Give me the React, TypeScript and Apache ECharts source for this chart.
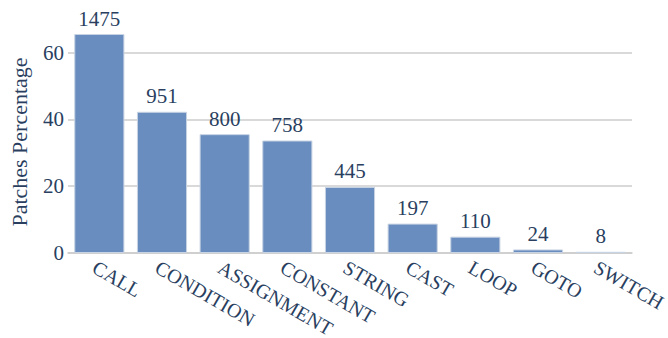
import React, { useEffect, useRef } from "react";
import * as echarts from "echarts";

const categories = ["CALL", "CONDITION", "ASSIGNMENT", "CONSTANT", "STRING", "CAST", "LOOP", "GOTO", "SWITCH"];
const counts = [1475, 951, 800, 758, 445, 197, 110, 24, 8];
const percentages = [65.6, 42.3, 35.6, 33.7, 19.8, 8.8, 4.9, 1.07, 0.36];
const yTicks = [0, 20, 40, 60];

const FONT = "Liberation Serif";
const TEXT = "#2a3f5f";
const GRID = "#cccccc";

export default function App() {
  const ref = useRef<HTMLDivElement>(null);
  useEffect(() => {
    if (!ref.current) return;
    const chart = echarts.init(ref.current, null, { renderer: "svg" });
    chart.setOption({
      animation: false,
      textStyle: { fontFamily: FONT, color: TEXT },
      grid: { left: 68, right: 36, top: 31, bottom: 85, containLabel: false, outerBoundsMode: "none" },
      xAxis: {
        type: "category",
        data: categories,
        axisLine: { show: true, lineStyle: { color: GRID, width: 1.5 } },
        axisTick: { show: false },
        axisLabel: {
          rotate: -30,
          margin: 4,
          verticalAlign: "top",
          fontFamily: FONT,
          fontSize: 20,
          color: TEXT,
          interval: 0,
        },
      },
      yAxis: {
        type: "value",
        min: 0,
        max: 66.5,
        name: "Patches Percentage",
        nameLocation: "middle",
        nameGap: 38,
        nameTextStyle: { fontFamily: FONT, fontSize: 22, color: TEXT },
        axisLine: { show: false },
        axisTick: { show: false, customValues: yTicks },
        axisLabel: { customValues: yTicks, margin: 4, fontFamily: FONT, fontSize: 21, color: TEXT },
        splitLine: { show: true, lineStyle: { color: GRID, width: 1.5 } },
      },
      series: [
        {
          type: "bar",
          data: percentages,
          barCategoryGap: "20%",
          itemStyle: { color: "#6a8dbf", borderColor: "#c8d4e3", borderWidth: 1 },
          label: {
            show: true,
            position: "top",
            distance: 5,
            fontFamily: FONT,
            fontSize: 21,
            color: TEXT,
            formatter: (p: any) => String(counts[p.dataIndex]),
          },
        },
      ],
    });
    return () => chart.dispose();
  }, []);
  return <div ref={ref} style={{ position: "absolute", left: 0, top: 0, width: 668, height: 338 }} />;
}
